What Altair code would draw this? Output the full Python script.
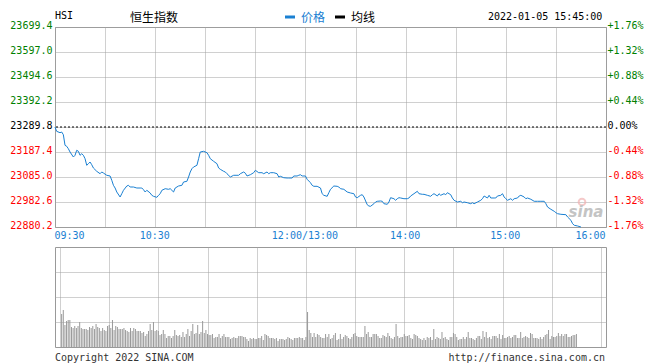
import altair as alt
import pandas as pd

# ---------------- data ----------------
symbol_code = "HSI"
symbol_name = "恒生指数"
legend_labels = ["价格", "均线"]
timestamp = "2022-01-05 15:45:00"
copyright_text = "Copyright 2022 SINA.COM"
url_text = "http://finance.sina.com.cn"
watermark = "sina"

prev_close = 23289.8

# minute index from 09:30 (lunch break removed: 150 = 12:00/13:00, 330 = 16:00)
price_min = [
    0, 1, 3, 4, 5, 6, 7, 8, 9, 11,
    12, 13, 14, 15, 16, 17, 18, 19, 20, 21,
    22, 23, 25, 27, 28, 29, 31, 33, 34, 35,
    36, 37, 39, 40, 41, 43, 44, 45, 47, 49,
    51, 52, 53, 54, 55, 57, 58, 59, 61, 62,
    63, 64, 66, 68, 69, 71, 72, 74, 76, 77,
    79, 80, 81, 82, 83, 85, 86, 87, 89, 91,
    92, 93, 95, 97, 98, 99, 101, 102, 103, 105,
    107, 109, 110, 111, 113, 114, 115, 117, 119, 120,
    122, 124, 125, 127, 128, 129, 131, 133, 134, 135,
    137, 139, 140, 142, 143, 145, 146, 147, 148, 150,
    151, 153, 154, 155, 157, 159, 160, 161, 163, 164,
    165, 167, 169, 170, 171, 173, 175, 177, 179, 180,
    181, 183, 184, 185, 187, 188, 189, 191, 192, 193,
    195, 196, 197, 199, 200, 201, 203, 204, 205, 206,
    207, 209, 211, 212, 213, 215, 217, 218, 220, 221,
    223, 225, 226, 227, 229, 230, 231, 233, 234, 235,
    237, 238, 239, 241, 243, 244, 245, 247, 249, 250,
    251, 253, 255, 256, 257, 259, 260, 261, 263, 264,
    265, 267, 268, 269, 270, 271, 273, 274, 275, 277,
    278, 279, 281, 282, 283, 285, 287, 289, 291, 293,
    294, 295, 297, 299, 300, 301, 303, 306, 307, 309,
    310, 311, 313, 315,
]
price_val = [
    23289.8, 23272.2, 23266.5, 23269.3, 23258.3, 23214.8, 23210.7, 23200.9, 23187.4, 23166.9,
    23173.9, 23194.4, 23190.3, 23173.9, 23180.4, 23173.9, 23160.0, 23132.9, 23139.5, 23146.4,
    23135.4, 23121.9, 23108.3, 23098.5, 23105.5, 23101.4, 23092.0, 23089.1, 23071.5, 23051.0,
    23039.9, 23023.6, 23003.1, 23016.6, 23030.5, 23048.1, 23051.0, 23044.0, 23044.0, 23039.9,
    23039.9, 23039.9, 23033.0, 23023.6, 23030.5, 23019.5, 23010.0, 23005.9, 23001.8, 23010.0,
    23016.6, 23030.5, 23037.1, 23034.6, 23037.1, 23023.6, 23039.9, 23048.1, 23051.0, 23064.5,
    23067.4, 23085.0, 23105.5, 23119.0, 23126.0, 23132.9, 23160.0, 23187.4, 23190.3, 23184.5,
    23173.9, 23160.0, 23149.3, 23139.5, 23121.9, 23116.5, 23108.3, 23105.5, 23098.5, 23085.0,
    23092.0, 23092.0, 23092.0, 23098.5, 23105.5, 23100.6, 23089.1, 23094.4, 23102.6, 23112.4,
    23102.6, 23102.6, 23098.5, 23105.5, 23098.5, 23102.6, 23102.6, 23098.5, 23085.0, 23087.9,
    23082.1, 23080.9, 23080.9, 23080.9, 23089.1, 23089.1, 23092.0, 23094.4, 23089.1, 23089.1,
    23075.6, 23061.7, 23051.0, 23046.9, 23046.9, 23039.9, 23016.6, 23010.0, 23005.9, 23020.7,
    23034.6, 23048.1, 23046.9, 23044.0, 23037.1, 23034.6, 23023.6, 23019.5, 23016.6, 23003.1,
    23000.2, 23010.0, 23012.5, 23003.1, 22971.5, 22966.2, 22965.0, 22975.6, 22982.6, 22985.5,
    22986.7, 22985.5, 22975.6, 22973.2, 22982.6, 23000.2, 22996.1, 22989.6, 22996.1, 23000.2,
    22999.0, 22996.1, 22996.1, 22999.0, 23007.2, 23016.6, 23026.4, 23016.6, 23014.1, 23014.1,
    23010.0, 23005.9, 23012.5, 23016.6, 23007.2, 23016.6, 23010.0, 23016.6, 23012.5, 23020.7,
    23012.5, 22999.0, 22989.6, 22982.6, 22985.5, 22979.7, 22982.6, 22979.7, 22975.6, 22979.7,
    22975.6, 22982.6, 22989.6, 22996.1, 23007.2, 22999.0, 23010.0, 22999.0, 22999.0, 22999.0,
    23007.2, 23010.0, 23016.6, 23003.1, 22996.1, 22989.6, 22996.1, 22989.6, 22996.1, 22999.0,
    23007.2, 23010.0, 23003.1, 22996.1, 22999.0, 22993.7, 22985.5, 22985.5, 22985.5, 22985.5,
    22975.6, 22962.1, 22952.7, 22944.5, 22938.8, 22934.7, 22932.2, 22930.6, 22921.2, 22907.6,
    22893.7, 22887.2, 22884.3, 22880.2,
]

# per-minute volume (relative units), minutes 1 .. 315
volume = [
    33, 37, 22, 26, 27, 27, 20, 19, 21, 19,
    21, 25, 19, 18, 18, 18, 17, 20, 19, 21,
    18, 23, 20, 19, 16, 19, 17, 16, 21, 22,
    19, 27, 17, 21, 20, 18, 18, 18, 19, 17,
    16, 15, 19, 16, 19, 18, 16, 16, 16, 14,
    15, 11, 13, 16, 23, 17, 25, 16, 17, 16,
    12, 13, 17, 13, 9, 11, 11, 9, 11, 17,
    12, 11, 12, 10, 15, 10, 13, 18, 11, 16,
    23, 13, 14, 22, 13, 15, 26, 14, 17, 13,
    12, 12, 13, 9, 10, 10, 13, 9, 11, 13,
    10, 10, 10, 8, 9, 10, 9, 9, 11, 11,
    11, 10, 10, 8, 6, 9, 8, 9, 8, 8,
    9, 9, 11, 7, 13, 12, 11, 9, 9, 9,
    8, 9, 6, 8, 8, 8, 7, 8, 10, 9,
    8, 7, 9, 9, 9, 10, 9, 9, 7, 10,
    35,
    17, 14, 10, 14, 10, 13, 12, 10, 9, 9,
    13, 10, 13, 8, 9, 12, 14, 7, 8, 13,
    8, 10, 12, 11, 9, 8, 10, 13, 14, 11,
    10, 10, 10, 10, 21, 13, 15, 10, 10, 13,
    13, 13, 11, 9, 9, 12, 11, 10, 14, 11,
    9, 8, 10, 23, 11, 9, 10, 10, 13, 11,
    11, 12, 9, 8, 13, 12, 11, 9, 8,
    7, 9, 7, 10, 9, 10, 7, 18, 8, 10,
    9, 8, 15, 9, 10, 8, 7, 10, 10, 14,
    13, 10, 7, 8, 8, 10, 8, 10, 15, 9,
    9, 8, 7, 9, 11, 11, 8, 16, 10, 15,
    9, 10, 8, 11, 11, 11, 9, 13, 8, 12,
    9, 9, 10, 11, 9, 10, 12, 12, 9, 9,
    15, 9, 10, 11, 10, 9, 14, 13, 9, 9,
    9, 8, 10, 8, 10, 12, 13, 17, 8, 11,
    10, 10, 11, 14, 11, 13, 11, 13, 13, 10,
    10, 11, 12, 12, 13,
]

time_ticks = [0, 60, 150, 210, 270, 330]
time_labels = ["09:30", "10:30", "12:00/13:00", "14:00", "15:00", "16:00"]
grid_ticks = [0, 30, 60, 90, 120, 150, 180, 210, 240, 270, 300, 330]
price_ticks = [22880.2, 22982.6, 23085.0, 23187.4, 23289.8, 23392.2, 23494.6, 23597.0, 23699.4]
pct_ticks = [-1.76, -1.32, -0.88, -0.44, 0.0, 0.44, 0.88, 1.32, 1.76]
vol_grid = [25, 50, 75]

# ---------------- styling ----------------
W, H_MAIN, H_VOL = 551, 200, 100
MONO = "DejaVu Sans Mono"
CJK = "Noto Sans CJK SC"
LINE = "#1a80d2"
GREEN = "#008000"
RED = "#ff0000"
GRID = "#a0a0a0"
GRID_DASH = [1, 1]

price_df = pd.DataFrame({"minute": price_min, "price": price_val})
vol_df = pd.DataFrame({"minute": list(range(1, len(volume) + 1)), "vol": volume})
prev_df = pd.DataFrame({"p": [prev_close]})

x_scale = alt.Scale(domain=[0, 330], nice=False, zero=False)
price_scale = alt.Scale(domain=[price_ticks[0], price_ticks[-1]], nice=False, zero=False)
pct_scale = alt.Scale(domain=[pct_ticks[0], pct_ticks[-1]], nice=False, zero=False)

label_expr = "''"
for t, lab in zip(reversed(time_ticks), reversed(time_labels)):
    label_expr = f"datum.value == {t} ? '{lab}' : ({label_expr})"

x_axis_main = alt.Axis(
    values=grid_ticks, labelExpr=label_expr, grid=True, gridColor=GRID, gridDash=GRID_DASH,
    ticks=False, domain=False, labelFont=MONO, labelFontSize=10, labelColor=LINE,
    labelPadding=3, labelFlush=True, labelOverlap=False, labelOffset=-1, title=None,
)

color_cond_price = {
    "condition": [
        {"test": f"datum.value > {prev_close + 0.05}", "value": GREEN},
        {"test": f"datum.value < {prev_close - 0.05}", "value": RED},
    ],
    "value": "black",
}
color_cond_pct = {
    "condition": [
        {"test": "datum.value > 0.001", "value": GREEN},
        {"test": "datum.value < -0.001", "value": RED},
    ],
    "value": "black",
}

left_axis = alt.Axis(
    values=price_ticks, format=".1f", grid=True, gridColor=GRID, gridDash=GRID_DASH,
    ticks=False, tickSize=0, domain=False, labelFont=MONO, labelFontSize=10,
    labelColor=color_cond_price, labelPadding=3, labelFlush=False, labelOverlap=False,
    labelOffset=-2, title=None,
)
right_axis = alt.Axis(
    orient="right", values=pct_ticks,
    labelExpr="(datum.value > 0.001 ? '+' : (datum.value < -0.001 ? '-' : '')) + format(abs(datum.value), '.2f') + '%'",
    grid=False, ticks=False, tickSize=0, domain=False, labelFont=MONO, labelFontSize=10,
    labelColor=color_cond_pct, labelPadding=1, labelFlush=False, labelOverlap=False,
    labelOffset=-2, title=None,
)

line = alt.Chart(price_df).mark_line(color=LINE, strokeWidth=1).encode(
    x=alt.X("minute:Q", scale=x_scale, axis=x_axis_main),
    y=alt.Y("price:Q", scale=price_scale, axis=left_axis),
)
prev_rule = alt.Chart(prev_df).mark_rule(color="black", strokeDash=[2, 2], strokeWidth=1).encode(
    y=alt.Y("p:Q", scale=price_scale, axis=None),
)
# invisible layer carrying the right-hand percentage axis
pct_layer = alt.Chart(price_df).transform_calculate(
    pct=f"(datum.price / {prev_close} - 1) * 100"
).mark_rule(opacity=0).encode(
    y=alt.Y("pct:Q", scale=pct_scale, axis=right_axis),
)


def text_layer(txt, x, y, color="black", font=MONO, size=10, align="left", **kw):
    return alt.Chart(pd.DataFrame({"t": [txt]})).mark_text(
        align=align, baseline="middle", font=font, fontSize=size, color=color, **kw
    ).encode(text="t:N", x=alt.value(x), y=alt.value(y))


def swatch(x0, x1, color):
    return alt.Chart(pd.DataFrame({"t": [0]})).mark_rect(color=color).encode(
        x=alt.value(x0), x2=alt.value(x1), y=alt.value(-11.5), y2=alt.value(-8.5)
    )


header = [
    text_layer(symbol_code, 0, -11),
    text_layer(symbol_name, 75, -9.5, font=CJK, size=12),
    swatch(230, 240, LINE),
    text_layer(legend_labels[0], 246, -9.5, color=LINE, font=CJK, size=12),
    swatch(280, 290, "black"),
    text_layer(legend_labels[1], 296, -9.5, font=CJK, size=12),
    text_layer(timestamp, 433, -10),
]

logo = alt.Chart(pd.DataFrame({"t": [0]})).mark_point(
    shape="circle", size=45, filled=False, stroke="#f2b3b3", strokeWidth=2
).encode(x=alt.value(527), y=alt.value(175))
wm = text_layer(watermark, 531, 185, color="#c4c4c4", font="DejaVu Sans", size=15,
                align="center", fontStyle="italic", fontWeight="bold")

main = alt.layer(line, prev_rule, pct_layer, logo, wm, *header).resolve_scale(
    y="independent"
).properties(width=W, height=H_MAIN)

bars = alt.Chart(vol_df).mark_bar(width=1, color="#999999").encode(
    x=alt.X("minute:Q", scale=x_scale, axis=alt.Axis(
        values=grid_ticks, labels=False, grid=True, gridColor=GRID, gridDash=GRID_DASH,
        ticks=False, domain=False, title=None)),
    y=alt.Y("vol:Q", scale=alt.Scale(domain=[0, 100], nice=False, zero=True), axis=alt.Axis(
        values=vol_grid, labels=False, grid=True, gridColor=GRID, gridDash=GRID_DASH,
        ticks=False, domain=False, title=None)),
)
vol = alt.layer(
    bars,
    text_layer(copyright_text, 0, 111, color="#333333"),
    text_layer(url_text, 550, 111, color="#333333", align="right"),
).properties(width=W, height=H_VOL)

chart = alt.vconcat(main, vol, spacing=20, bounds="flush").properties(
    padding={"left": 1, "top": 2, "right": 0, "bottom": 0}
).configure_view(stroke="#999999", strokeWidth=1)

chart.save("out.html", embed_options={"renderer": "svg", "actions": False})
